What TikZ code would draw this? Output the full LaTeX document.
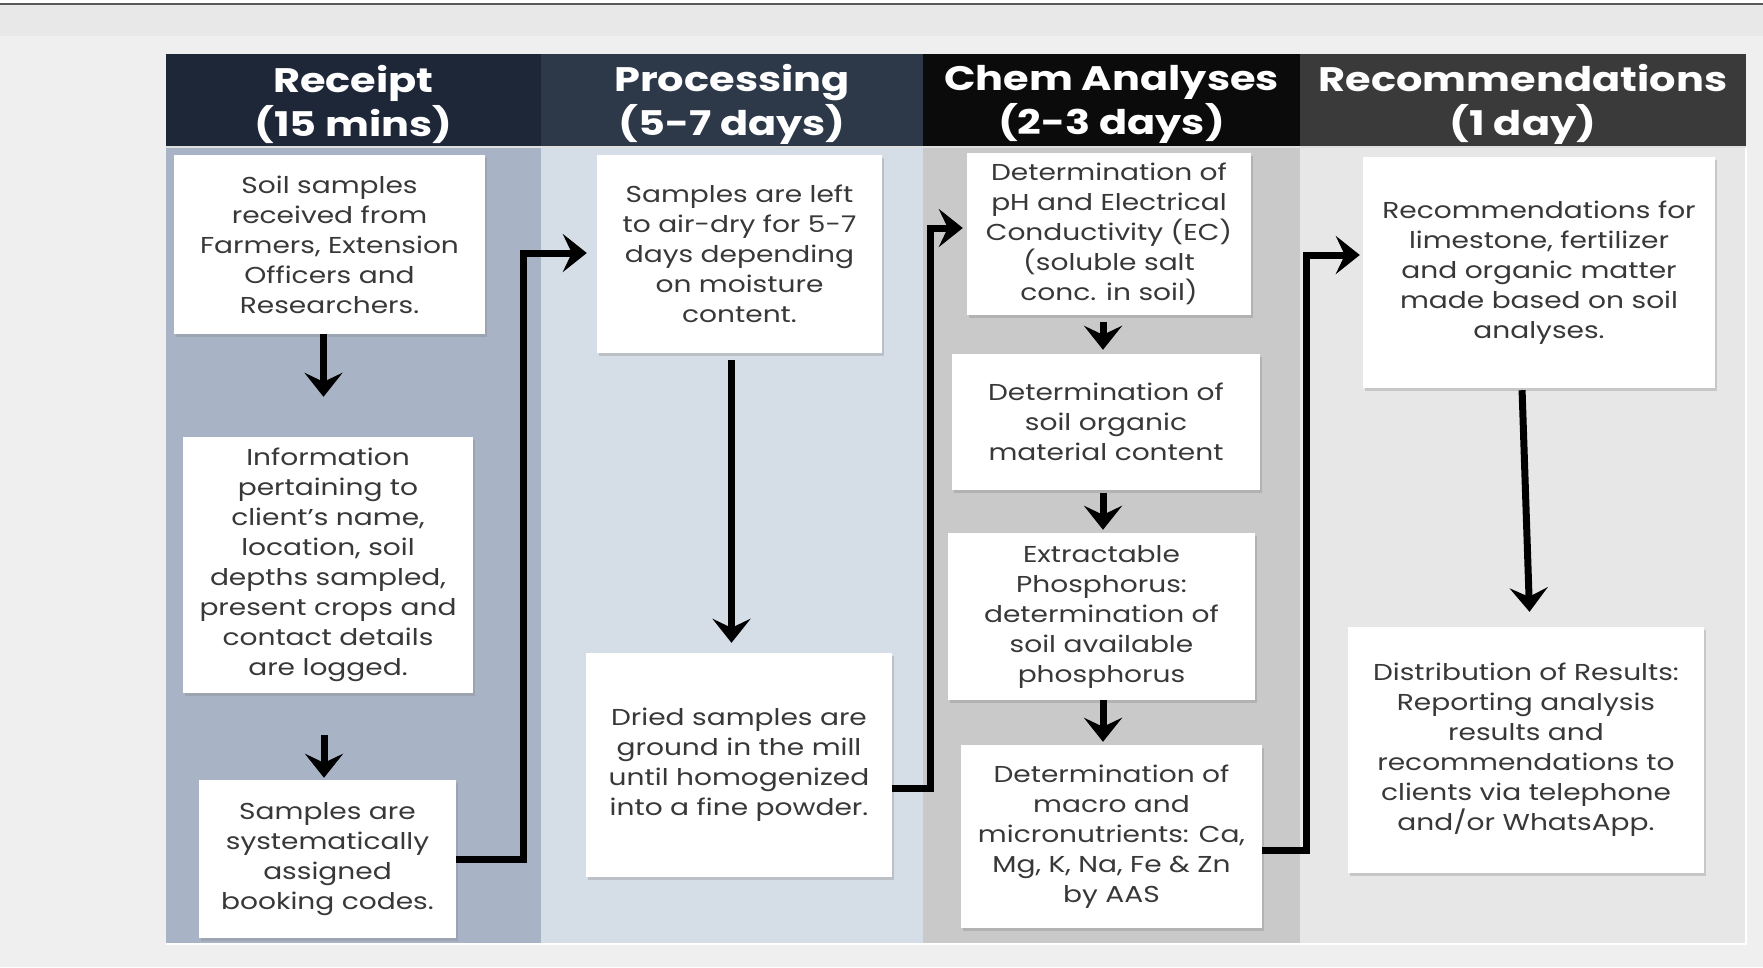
\documentclass[tikz,border=0pt]{standalone}
\usepackage{fontspec}
\setmainfont[FakeStretch=1.22]{Poppins}
\usepackage{xcolor}
\usetikzlibrary{calc}
\usetikzlibrary{positioning}
\usetikzlibrary{arrows.meta}
\usetikzlibrary{shadows}
\definecolor{hdrecv}{HTML}{1E2738}
\definecolor{hdproc}{HTML}{2D3849}
\definecolor{hdchem}{HTML}{0B0B0B}
\definecolor{hdreco}{HTML}{3A3A3A}
\definecolor{bdrecv}{HTML}{A8B4C6}
\definecolor{bdproc}{HTML}{D5DDE7}
\definecolor{bdchem}{HTML}{C9C9C9}
\definecolor{bdreco}{HTML}{E7E7E7}
\definecolor{txtgray}{HTML}{383838}
\definecolor{pagecol}{HTML}{EFEFEF}
\def\thickness{7pt}
\tikzset{
stepbox/.style 2 args={
	fill=white, minimum width=#1, minimum height=#2,
	align=center, inner sep=2pt, text=txtgray,
	font={\fontsize{23}{30}\selectfont},
	drop shadow={shadow xshift=2pt, shadow yshift=-3pt, opacity=0.3}
},
header/.style={
	text=white, align=center, inner sep=0pt,
	font={\fontsize{34}{44}\selectfont\bfseries}
},
flow/.style={
	line width=\thickness, line join=miter,
	-{Stealth[length=24pt, width=38pt, inset=9pt]}
},
}

\begin{document}
\begin{tikzpicture}[x=1pt, y=-1pt]
\useasboundingbox (0,0) rectangle (1763,967);
%Background and columns
\fill[pagecol] (0,0) rectangle (1763,967);
\fill[black!9] (0,5) rectangle (1763,36);
\fill[white] (0,0) rectangle (1763,3);
\fill[black!65] (0,3) rectangle (1763,5);
\fill[bdrecv] (166,147) rectangle (541,944);
\fill[bdproc] (541,147) rectangle (923,944);
\fill[bdchem] (923,147) rectangle (1300,944);
\fill[bdreco] (1300,147) rectangle (1746,944);
\draw[white, line width=1.5pt] (166,944) -- (1746,944) -- (1746,147);
\fill[hdrecv] (166,54) rectangle (541,147);
\fill[hdproc] (541,54) rectangle (923,147);
\fill[hdchem] (923,54) rectangle (1300,147);
\fill[hdreco] (1300,54) rectangle (1746,147);
\draw[white!75!gray, line width=1.5pt] (166,147) -- (1746,147);

%Place the headers
\node[header] (hrecv) at (353.5,104.5) {Receipt\\(15 mins)};
\node[header] (hproc) at (732,104.5) {Processing\\(5-7 days)};
\node[header] (hchem) at (1111.5,104.5) {Chem Analyses\\(2-3 days)};
\node[header] (hreco) at (1523,104.5) {Recommendations\\(1 day)};

%Place the nodes
\node[stepbox={311pt}{179pt}] (r1) at (329.5,244.5) {Soil samples\\received from\\Farmers, Extension\\Officers and\\Researchers.};
\node[stepbox={290pt}{256pt}] (r2) at (328,565) {Information\\pertaining to\\client’s name,\\location, soil\\depths sampled,\\present crops and\\contact details\\are logged.};
\node[stepbox={257pt}{158pt}] (r3) at (327.5,859) {Samples are\\systematically\\assigned\\booking codes.};

\node[stepbox={285pt}{198pt}] (p1) at (739.5,254) {Samples are left\\to air-dry for 5-7\\days depending\\on moisture\\content.};
\node[stepbox={306pt}{224pt}] (p2) at (739,765) {Dried samples are\\ground in the mill\\until homogenized\\into a fine powder.};

\node[stepbox={284pt}{162pt}] (c1) at (1109,234) {Determination of\\pH and Electrical\\Conductivity (EC)\\(soluble salt\\conc. in soil)};
\node[stepbox={308pt}{136pt}] (c2) at (1106,422) {Determination of\\soil organic\\material content};
\node[stepbox={307pt}{167pt}] (c3) at (1101.5,616.5) {Extractable\\Phosphorus:\\determination of\\soil available\\phosphorus};
\node[stepbox={301pt}{183pt}] (c4) at (1111.5,836.5) {Determination of\\macro and\\micronutrients: Ca,\\Mg, K, Na, Fe \& Zn\\by AAS};

\node[stepbox={352pt}{231pt}] (e1) at (1539,272.5) {Recommendations for\\limestone, fertilizer\\and organic matter\\made based on soil\\analyses.};
\node[stepbox={356pt}{246pt}] (e2) at (1526,750) {Distribution of Results:\\Reporting analysis\\results and\\recommendations to\\clients via telephone\\and/or WhatsApp.};

\coordinate (k1) at (523,253);
\coordinate (k2) at (930,228);
\coordinate (k3) at (1306,255);

%
\draw[flow, shorten >=40pt] ([xshift=-6pt]r1.south) -- ([xshift=-6pt]r1.south |- r2.north);
\draw[flow, shorten <=42pt, shorten >=2pt] ([xshift=-4pt]r2.south) -- ([xshift=-4pt]r2.south |- r3.north);
\draw[flow, shorten >=10pt] (r3.east) -| (k1) -- (k1 -| p1.west);

%
\draw[flow, shorten <=7pt, shorten >=10pt] ([xshift=-8pt]p1.south) -- ([xshift=-8pt]p1.south |- p2.north);
\draw[flow, shorten >=4pt] ([yshift=-23pt]p2.east) -| (k2) -- (k2 -| c1.west);

%
\draw[flow, shorten <=7pt, shorten >=4pt] ([xshift=-6pt]c1.south) -- ([xshift=-6pt]c1.south |- c2.north);
\draw[flow, shorten <=3pt, shorten >=3pt] ([xshift=-3pt]c2.south) -- ([xshift=-3pt]c2.south |- c3.north);
\draw[flow, shorten >=3pt] ([xshift=1.5pt]c3.south) -- ([xshift=1.5pt]c3.south |- c4.north);
\draw[flow, shorten >=3pt] ([yshift=-13.5pt]c4.east) -| (k3) -- (k3 -| e1.west);

%
\draw[flow, shorten <=2pt, shorten >=15pt] ([xshift=-17pt]e1.south) -- ([xshift=4pt]e2.north);

\end{tikzpicture}
\end{document}
